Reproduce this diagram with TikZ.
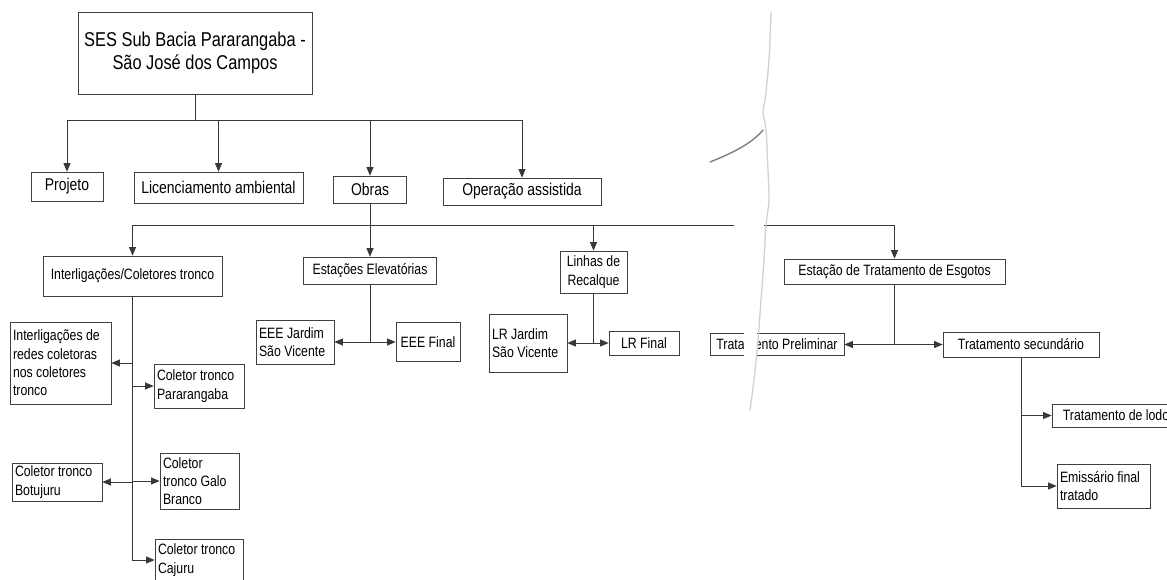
\documentclass[tikz,border=0pt]{standalone}
\usepackage{fontspec}
\setmainfont{Liberation Sans}[FakeStretch=0.82]
\usetikzlibrary{arrows.meta}
\begin{document}
\begin{tikzpicture}[x=1pt,y=-1pt,
  box/.style={draw=black!75, line width=0.75pt, text=black, inner xsep=3pt, inner ysep=0pt, font=\fontsize{15}{18.3}\selectfont},
  lbox/.style={box, align=flush left},
  cbox/.style={box, align=center},
  big/.style={font=\fontsize{17}{20}\selectfont},
  con/.style={draw=black!78, line width=0.75pt},
  arr/.style={con, -{Triangle[length=8.5pt,width=7pt]}}]
\useasboundingbox (0,0) rectangle (1167,579);
\fill[white] (0,0) rectangle (1167,579);

% level 0/1
\node[cbox, font=\fontsize{20}{23}\selectfont, minimum width=234pt, minimum height=82pt] (root) at (195,53) {SES Sub Bacia Pararangaba -\\São José dos Campos};
\node[cbox, big, minimum width=72pt, minimum height=29pt] (proj) at (67,186.5) {Projeto};
\node[cbox, big, minimum width=169pt, minimum height=31pt] (lic) at (218.5,187.5) {Licenciamento ambiental};
\node[cbox, big, minimum width=73pt, minimum height=27pt] (obras) at (370,189.5) {Obras};
\node[cbox, big, minimum width=158pt, minimum height=27pt] (op) at (522,191.5) {Operação assistida};

% level 2
\node[cbox, minimum width=179pt, minimum height=40pt] (ic) at (132.5,276) {Interligações/Coletores tronco};
\node[cbox, minimum width=133pt, minimum height=27pt] (ee) at (370,270.5) {Estações Elevatórias};
\node[cbox, minimum width=67pt, minimum height=42pt] (lr) at (593.5,272) {Linhas de\\Recalque};
\node[cbox, minimum width=221pt, minimum height=25pt] (ete) at (894.5,271.5) {Estação de Tratamento de Esgotos};

% level 3
\node[lbox, text width=95pt, minimum height=82pt] (redes) at (60.5,363) {Interligações de\\redes coletoras\\nos coletores\\tronco};
\node[lbox, text width=84pt, minimum height=44pt] (par) at (199,386) {Coletor tronco\\Pararangaba};
\node[lbox, text width=84pt, minimum height=38pt] (bot) at (57,482) {Coletor tronco\\Botujuru};
\node[lbox, text width=73pt, minimum height=56pt] (galo) at (199.5,481) {Coletor\\tronco Galo\\Branco};
\node[lbox, text width=82pt, minimum height=42pt] (caj) at (199,560) {Coletor tronco\\Cajuru};

\node[lbox, text width=72pt, minimum height=44pt] (eeej) at (295,342) {EEE Jardim\\São Vicente};
\node[cbox, minimum width=64pt, minimum height=39pt] (eeef) at (428,342) {EEE Final};
\node[lbox, text width=72pt, minimum height=58pt] (lrj) at (528,343) {LR Jardim\\São Vicente};
\node[cbox, minimum width=70pt, minimum height=24pt] (lrf) at (644,343) {LR Final};

\node[cbox, minimum width=134pt, minimum height=22pt] (tp) at (777,344.5) {Tratamento Preliminar};
\node[cbox, minimum width=156pt, minimum height=25pt] (ts) at (1021,344.5) {Tratamento secundário};
\node[cbox, minimum width=128pt, minimum height=23pt] (tl) at (1116,415.5) {Tratamento de lodo};
\node[lbox, text width=87pt, minimum height=44pt] (em) at (1103.5,486) {Emissário final\\tratado};

% connectors level 1
\coordinate (b1) at (195,120);
\draw[con] (root.south) -- (b1);
\draw[arr] (b1) -| (proj.north);
\draw[arr] (b1) -| (lic.north);
\draw[arr] (b1) -| (obras.north);
\draw[arr] (b1) -| (op.north);

% connectors level 2
\coordinate (b2) at (370,225);
\draw[con] (obras.south) -- (b2);
\draw[arr] (b2) -- (ee.north);
\draw[arr] (b2) -| (ic.north);
\draw[arr] (b2) -| (lr.north);
\draw[arr] (b2) -| (ete.north);

% Interligacoes branch
\draw[arr] (ic.south) |- (caj.west);
\draw[arr] (ic.south |- redes.east) -- (redes.east);
\draw[arr] (ic.south |- par.west) -- (par.west);
\draw[arr] (ic.south |- bot.east) -- (bot.east);
\draw[arr] (ic.south |- galo.west) -- (galo.west);

% Estacoes Elevatorias branch
\coordinate (e1) at (ee.south |- eeej.east);
\draw[con] (ee.south) -- (e1);
\draw[arr] (e1) -- (eeej.east);
\draw[arr] (e1) -- (eeef.west);

% Linhas de Recalque branch
\coordinate (l1) at (lr.south |- lrj.east);
\draw[con] (lr.south) -- (l1);
\draw[arr] (l1) -- (lrj.east);
\draw[arr] (l1) -- (lrf.west);

% ETE branch
\coordinate (t1) at (ete.south |- tp.east);
\draw[con] (ete.south) -- (t1);
\draw[arr] (t1) -- (tp.east);
\draw[arr] (t1) -- (ts.west);
\draw[arr] (ts.south) |- (em.west);
\draw[arr] (ts.south |- tl.west) -- (tl.west);

% paper tear (scan artefact)
\fill[white] (734,212) rectangle (764,238);
\fill[white] (744,330) rectangle (757,359);
\draw[black!18, line width=1.3pt, line cap=round] plot[smooth] coordinates {(771,12) (769,60) (765,100) (763,112) (766,130) (768,170) (769,200) (766,225) (764,260) (761,300) (758,340) (754,380) (750,410)};
\draw[black!50, line width=1.4pt, line cap=round] (710,162) .. controls (735,152) and (752,143) .. (763,130);
\end{tikzpicture}
\end{document}
